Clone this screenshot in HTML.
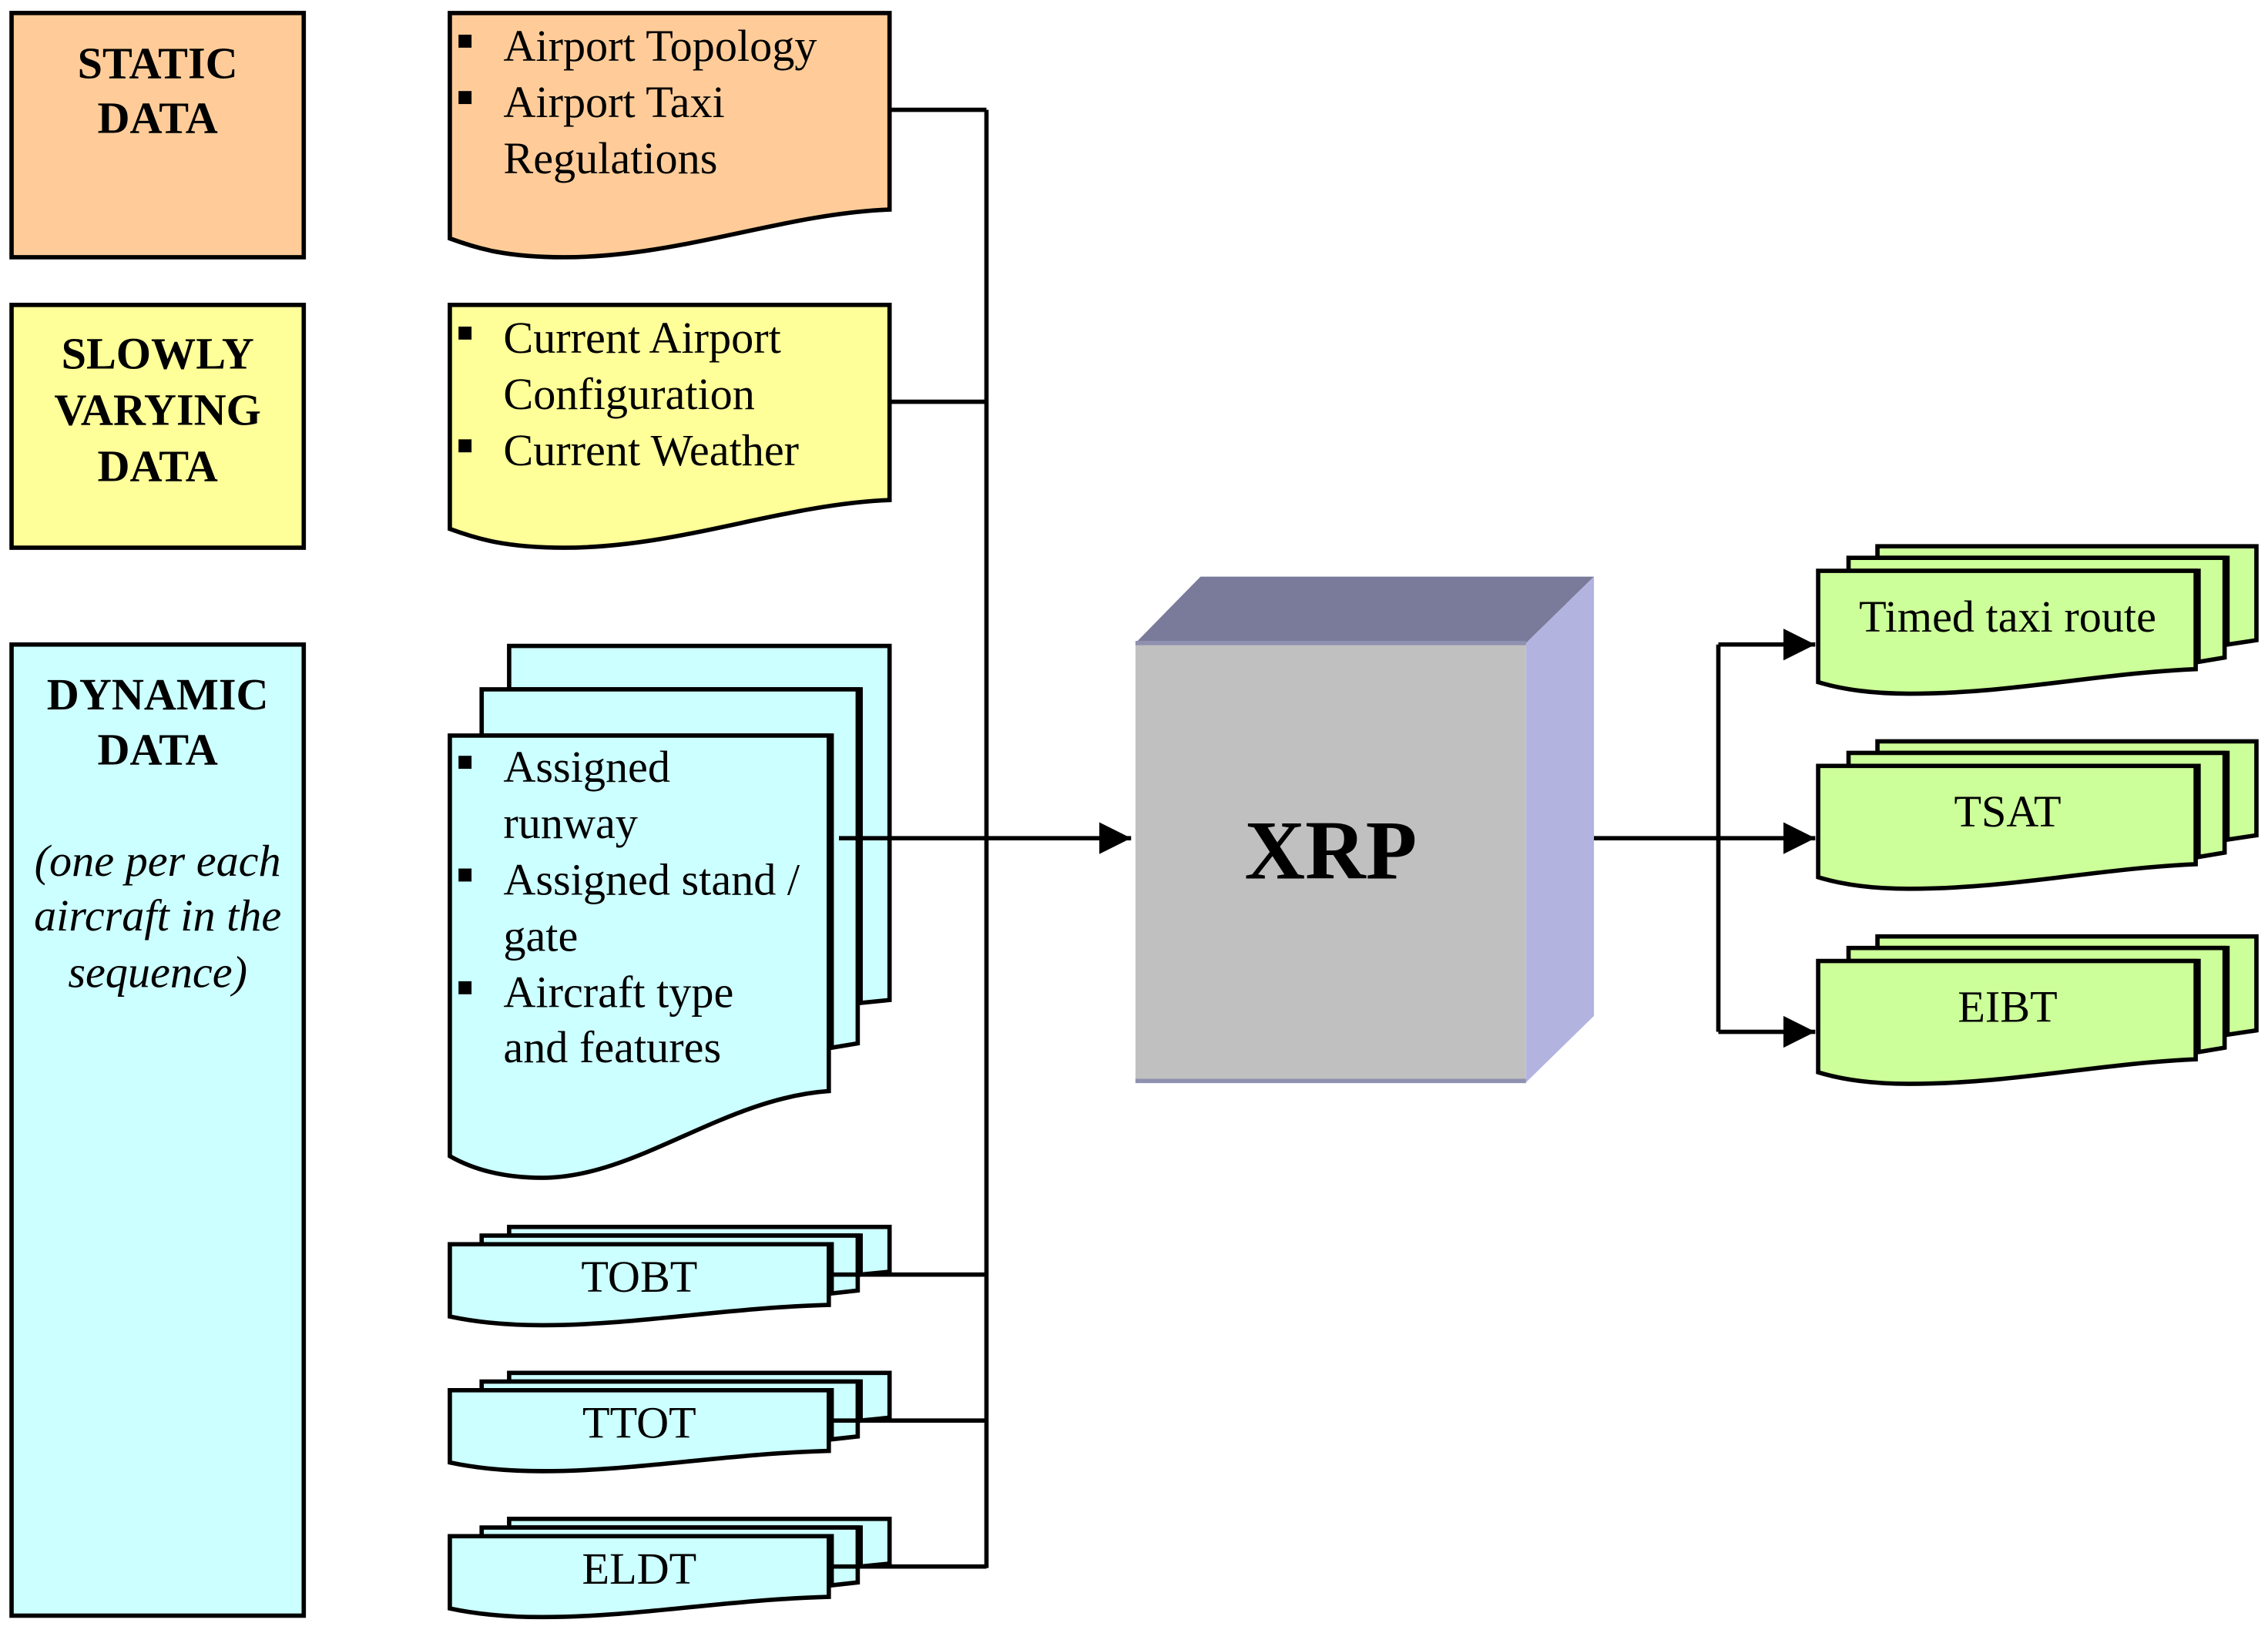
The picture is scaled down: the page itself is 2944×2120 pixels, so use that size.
<!DOCTYPE html>
<html><head><meta charset="utf-8"><style>html,body{margin:0;padding:0;background:#fff}svg{display:block}</style></head><body>
<svg width="2944" height="2120" viewBox="0 0 1568 1130" preserveAspectRatio="none" xmlns="http://www.w3.org/2000/svg" font-family="Liberation Serif, serif">
<defs><marker id="ar" markerWidth="10" markerHeight="10" refX="9" refY="5" orient="auto" markerUnits="userSpaceOnUse"><path d="M0,0 L10,5 L0,10 Z" fill="#000"/></marker>
<marker id="a2" viewBox="0 0 10 10" markerWidth="24" markerHeight="22" refX="10" refY="5" orient="auto" markerUnits="userSpaceOnUse"><path d="M0,0 L10,5 L0,10 Z" fill="#000"/></marker></defs>
<g stroke="#000" stroke-width="3">
<rect x="8" y="9" width="202" height="169" fill="#ffcc99"/>
<rect x="8" y="211" width="202" height="168" fill="#ffff99"/>
<rect x="8" y="446" width="202" height="672" fill="#ccffff"/>
<!-- static doc -->
<path d="M311,9 H615 V145 C540,148 470,178 390,178 C350,178 330,172 311,165 Z" fill="#ffcc99"/>
<path d="M311,211 H615 V346 C540,349 470,379 390,379 C350,379 330,373 311,366 Z" fill="#ffff99"/>
<!-- dynamic stack -->
<path d="M352,447 H615 V692 L595,694 V477 H352 Z" fill="#ccffff"/>
<path d="M333,477 H593 V722 L575,725 V509 H333 Z" fill="#ccffff"/>
<path d="M311,509 H573 V755 C500,760 440,815 375,815 C345,815 325,808 311,800 Z" fill="#ccffff"/>
<!-- small stacks -->
<path d="M352,849 H615 V880 L595,882 V855 H352 Z" fill="#ccffff"/>
<path d="M333,855 H593 V893 L575,895 V861 H333 Z" fill="#ccffff"/>
<path d="M311,861 H573 V903 C500,905 440,917 375,917 C345,917 325,914 311,911 Z" fill="#ccffff"/>
<path d="M352,950 H615 V981 L595,983 V956 H352 Z" fill="#ccffff"/>
<path d="M333,956 H593 V994 L575,996 V962 H333 Z" fill="#ccffff"/>
<path d="M311,962 H573 V1004 C500,1006 440,1018 375,1018 C345,1018 325,1015 311,1012 Z" fill="#ccffff"/>
<path d="M352,1051 H615 V1082 L595,1084 V1057 H352 Z" fill="#ccffff"/>
<path d="M333,1057 H593 V1095 L575,1097 V1063 H333 Z" fill="#ccffff"/>
<path d="M311,1063 H573 V1105 C500,1107 440,1119 375,1119 C345,1119 325,1116 311,1113 Z" fill="#ccffff"/>
<!-- green outputs -->
<path d="M1298,378 H1560 V443 L1540,446 V386 H1298 Z" fill="#ccff99"/>
<path d="M1278,386 H1538 V455 L1520,458 V395 H1278 Z" fill="#ccff99"/>
<path d="M1257,395 H1518 V463 C1450,466 1390,480 1320,480 C1290,480 1270,476 1257,472 Z" fill="#ccff99"/>
<path d="M1298,513 H1560 V578 L1540,581 V521 H1298 Z" fill="#ccff99"/>
<path d="M1278,521 H1538 V590 L1520,593 V530 H1278 Z" fill="#ccff99"/>
<path d="M1257,530 H1518 V598 C1450,601 1390,615 1320,615 C1290,615 1270,611 1257,607 Z" fill="#ccff99"/>
<path d="M1298,648 H1560 V713 L1540,716 V656 H1298 Z" fill="#ccff99"/>
<path d="M1278,656 H1538 V725 L1520,728 V665 H1278 Z" fill="#ccff99"/>
<path d="M1257,665 H1518 V733 C1450,736 1390,750 1320,750 C1290,750 1270,746 1257,742 Z" fill="#ccff99"/>
</g>
<!-- connectors -->
<g stroke="#000" stroke-width="3" fill="none">
<path d="M682,76 V1085"/>
<path d="M615,76 H682 M615,278 H682 M575,882 H682 M575,983 H682 M575,1084 H682"/>
<path d="M580,580 H782" marker-end="url(#a2)"/>
<path d="M1087,580 H1255" marker-end="url(#a2)"/>
<path d="M1188,446 V714"/>
<path d="M1188,446 H1255" marker-end="url(#a2)"/>
<path d="M1188,714 H1255" marker-end="url(#a2)"/>
</g>
<!-- cube -->
<polygon points="785,445 830,399 1102,399 1055,445" fill="#7a7a9a"/>
<polygon points="1055,445 1102,399 1102,703 1055,749" fill="#b3b3e0"/>
<rect x="785" y="445" width="270" height="304" fill="#c0c0c0"/>
<line x1="785" y1="445" x2="1055" y2="445" stroke="#9090b0" stroke-width="3"/>
<line x1="785" y1="748" x2="1055" y2="748" stroke="#9090b0" stroke-width="3"/>
<text x="920" y="608" font-size="58" font-weight="bold" text-anchor="middle">XRP</text>
<!-- labels -->
<g font-size="31" font-weight="bold" text-anchor="middle">
<text x="109" y="54">STATIC</text><text x="109" y="92">DATA</text>
<text x="109" y="255">SLOWLY</text><text x="109" y="294">VARYING</text><text x="109" y="333">DATA</text>
<text x="109" y="491">DYNAMIC</text><text x="109" y="529">DATA</text>
</g>
<g font-size="31" font-style="italic" text-anchor="middle">
<text x="109" y="606">(one per each</text><text x="109" y="644">aircraft in the</text><text x="109" y="683">sequence)</text>
</g>
<g font-size="31">
<text x="348" y="42">Airport Topology</text><text x="348" y="81">Airport Taxi</text><text x="348" y="120">Regulations</text>
<text x="348" y="244">Current Airport</text><text x="348" y="283">Configuration</text><text x="348" y="322">Current Weather</text>
<text x="348" y="541">Assigned</text><text x="348" y="580">runway</text><text x="348" y="619">Assigned stand /</text><text x="348" y="658">gate</text><text x="348" y="697">Aircraft type</text><text x="348" y="735">and features</text>
</g>
<g fill="#000">
<rect x="317" y="24" width="9" height="9"/><rect x="317" y="63" width="9" height="9"/>
<rect x="317" y="226" width="9" height="9"/><rect x="317" y="304" width="9" height="9"/>
<rect x="317" y="523" width="9" height="9"/><rect x="317" y="601" width="9" height="9"/><rect x="317" y="679" width="9" height="9"/>
</g>
<g font-size="31" text-anchor="middle">
<text x="442" y="894">TOBT</text><text x="442" y="995">TTOT</text><text x="442" y="1096">ELDT</text>
<text x="1388" y="437">Timed taxi route</text><text x="1388" y="572">TSAT</text><text x="1388" y="707">EIBT</text>
</g>
</svg>
</body></html>
